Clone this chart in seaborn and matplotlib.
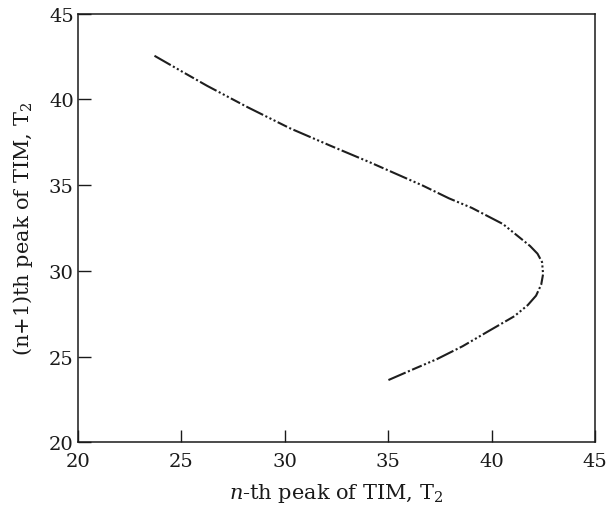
import matplotlib
matplotlib.use("Agg")
import matplotlib.pyplot as plt
import seaborn as sns
import pandas as pd

# Return map of successive TIM peaks (T2): n-th peak vs (n+1)-th peak
peak_n = [23.7, 25.0, 26.24, 28.2, 30.25, 32.19, 34.12, 36.68, 37.94, 39.05,
          40.55, 41.86, 42.22, 42.44, 42.49, 42.4, 42.15, 41.75, 41.1, 39.78,
          38.6, 37.36, 36.2, 35.0]
peak_n1 = [42.55, 41.65, 40.8, 39.55, 38.32, 37.31, 36.33, 34.97, 34.23, 33.67,
           32.73, 31.45, 31.0, 30.51, 29.81, 29.2, 28.55, 28.0, 27.35, 26.43,
           25.6, 24.85, 24.25, 23.62]

x_ticks = [20, 25, 30, 35, 40, 45]
y_ticks = [20, 25, 30, 35, 40, 45]

df = pd.DataFrame({"tn": peak_n, "tn1": peak_n1})

sns.set_theme(style="white")
plt.rcParams["font.family"] = ["DejaVu Serif"]
plt.rcParams["mathtext.fontset"] = "dejavuserif"

fig = plt.figure(figsize=(6.09, 5.10), dpi=100)
ax = fig.add_axes([0.128, 0.131, 0.849, 0.840])

sns.lineplot(data=df, x="tn", y="tn1", sort=False, estimator=None,
             color="#1e1e1e", linewidth=1.5, ax=ax)
ax.lines[0].set_dashes([9, 1.2, 1, 1.2, 1, 1.2, 1, 1.2, 5, 1.2, 1, 1.2])
ax.lines[0].set_dash_capstyle("butt")
ax.lines[0].set_solid_joinstyle("round")

ax.set_xlim(20, 45)
ax.set_ylim(20, 45)
ax.set_xticks(x_ticks)
ax.set_yticks(y_ticks)
ax.set_xticklabels([str(v) for v in x_ticks])
ax.set_yticklabels([str(v) for v in y_ticks])

ax.tick_params(axis="both", direction="in", length=9, width=1.0,
               colors="#1a1a1a", labelsize=14, top=False, right=False,
               left=True, bottom=True)
ax.tick_params(axis="x", pad=7)
ax.tick_params(axis="y", pad=3)

for side in ["left", "right", "top", "bottom"]:
    ax.spines[side].set_visible(True)
    ax.spines[side].set_color("#1a1a1a")
    ax.spines[side].set_linewidth(1.1)

ax.set_xlabel(r"$\mathit{n}$-th peak of TIM, T$_2$", fontsize=15,
              color="#1a1a1a", labelpad=8)
ax.set_ylabel(r"(n+1)th peak of TIM, T$_2$", fontsize=15,
              color="#1a1a1a", labelpad=10)

fig.savefig("out.png", dpi=100, facecolor="white")
